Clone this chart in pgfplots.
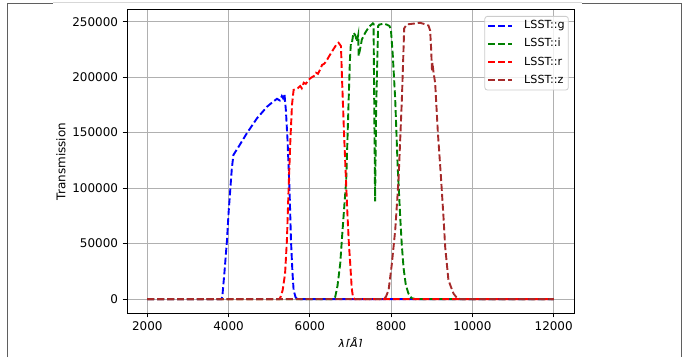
\documentclass[border=0pt]{standalone}
\usepackage{fontspec}
\setmainfont{DejaVu Sans}
\usepackage{pgfplots}
\usepackage{pgfplotstable}
\pgfplotsset{compat=1.18}

\definecolor{mplgreen}{RGB}{0,128,0}
\definecolor{mplbrown}{RGB}{165,42,42}
\definecolor{framegray}{RGB}{95,95,95}
\definecolor{gridgray}{RGB}{176,176,176}

% LSST filter transmission curves (wavelength in Angstrom)
\pgfplotstableread{
lam T
2000 0
3820 0
3845 2000
3900 25000
3960 53000
4000 78000
4040 98000
4080 118000
4120 130000
4250 137500
4450 149500
4700 163000
4950 173500
5100 178000
5190 180500
5260 179000
5310 183000
5340 181000
5375 185000
5410 170000
5450 143500
5500 98000
5535 53000
5570 25000
5600 8000
5650 1500
5700 0
12000 0
}\gband

\pgfplotstableread{
lam T
2000 0
6580 0
6624 2000
6680 12000
6747 32000
6800 60000
6850 85000
6894 107000
6930 150000
6955 180000
6985 215000
7010 231000
7034 231000
7074 240000
7116 238000
7157 232000
7190 238000
7200 219000
7240 226000
7280 234000
7362 240000
7450 245000
7550 248500
7567 248000
7590 150000
7605 88000
7630 170000
7680 246000
7706 247300
7813 248200
7895 247300
7960 246000
7994 243000
8040 220000
8100 180000
8160 120000
8223 74000
8260 50000
8306 28000
8360 13000
8426 5000
8500 1000
8600 0
12000 0
}\iband

\pgfplotstableread{
lam T
2000 0
5250 0
5280 2000
5330 8000
5390 23000
5435 53000
5475 98000
5520 143000
5560 175000
5600 188500
5700 190000
5763 192000
5800 190000
5850 195000
5900 194000
5960 197000
6009 199000
6100 201000
6150 204000
6200 203000
6255 207000
6300 211000
6350 212000
6400 214000
6460 218000
6560 224000
6665 230000
6705 231000
6765 228000
6790 200000
6840 150000
6880 115000
6920 80000
6960 50000
6993 32000
7030 10000
7060 2000
7100 0
12000 0
}\rband

\pgfplotstableread{
lam T
2000 0
7800 0
7870 2000
7937 8000
8018 32000
8100 62000
8181 107000
8230 150000
8264 180000
8300 220000
8321 244000
8387 247500
8550 248200
8714 249000
8800 248000
8918 246500
8960 242000
8985 225000
9000 210000
9008 205000
9015 213000
9041 205000
9083 194700
9150 150000
9222 112000
9288 74000
9330 47000
9410 17000
9535 5000
9620 1000
9700 0
12000 0
}\zband

\begin{document}
\begin{tikzpicture}[x=1bp,y=1bp]
\path[use as bounding box] (0,0) rectangle (683,357);

\begin{axis}[
  at={(127bp,44bp)}, anchor=south west,
  scale only axis, width=447bp, height=303bp,
  xmin=1500, xmax=12500, ymin=-12500, ymax=260500,
  xtick={2000,4000,...,12000},
  ytick={0,50000,100000,150000,200000,250000},
  scaled ticks=false,
  /pgf/number format/fixed,
  /pgf/number format/1000 sep={},
  /pgf/number format/assume math mode=true,
  font=\fontsize{12}{14}\selectfont,
  tick label style={font=\fontsize{12}{14}\selectfont},
  tick align=outside,
  major tick length=4.4bp,
  every tick/.style={black, line width=1bp},
  xtick pos=bottom, ytick pos=left,
  axis line style={black, line width=1bp},
  grid=major,
  major grid style={gridgray, line width=1bp},
  xticklabel style={anchor=north, inner sep=0pt, yshift=-4.4bp},
  yticklabel style={anchor=east, inner sep=0pt, xshift=-4.4bp},
  xlabel={\itshape λ[Å]},
  xlabel style={at={(axis description cs:0.5,-0.1155)}, anchor=base, inner sep=0pt},
  ylabel={Transmission},
  ylabel style={at={(axis description cs:-0.1376,0.5)}, anchor=base, inner sep=0pt},
  legend style={
    at={(axis description cs:1,1)}, xshift=-5.3bp, yshift=-6bp, anchor=north east,
    draw=black!20, line width=0.8bp, rounded corners=2.5bp,
    fill=white, fill opacity=0.8, text opacity=1, draw opacity=1,
    font=\fontsize{11.2}{13}\selectfont,
    inner xsep=2.5bp, inner ysep=3.5bp, row sep=5.8bp,
    nodes={inner sep=1bp, text height=8bp, text depth=2.3bp},
  },
  legend cell align=left,
  legend image code/.code={%
    \draw[#1] (0bp,0bp) -- (24bp,0bp);
    \path (34bp,0bp);},
  every axis plot/.append style={line width=1.9bp, dash pattern=on 6.9bp off 3bp},
]
\addplot[blue] table[x=lam, y=T] {\gband};
\addlegendentry{LSST::g}
\addplot[mplgreen] table[x=lam, y=T] {\iband};
\addlegendentry{LSST::i}
\addplot[red] table[x=lam, y=T] {\rband};
\addlegendentry{LSST::r}
\addplot[mplbrown] table[x=lam, y=T] {\zband};
\addlegendentry{LSST::z}
\end{axis}

% lower edge of the figure image cuts through the x label
\fill[white] (8.5,0) rectangle (680.5,10.3);

% surrounding frame
\draw[gridgray!50, line width=0.8bp] (53,354.3) -- (582,354.3);
\draw[framegray, line width=1.5bp] (7.5,0) -- (7.5,353.5) -- (53,353.5);
\draw[framegray, line width=1.5bp] (582,353.5) -- (681.5,353.5) -- (681.5,0);
\end{tikzpicture}
\end{document}
